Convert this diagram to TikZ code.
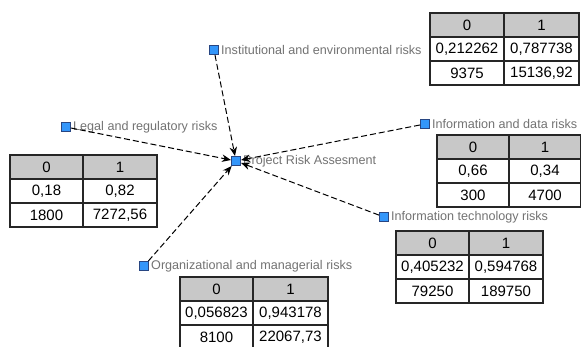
\documentclass[tikz,border=0pt]{standalone}
\usepackage{fontspec}
\setmainfont{Liberation Sans}
\usetikzlibrary{arrows.meta}
\definecolor{nodeblue}{RGB}{51,150,250}
\definecolor{nodeedge}{RGB}{40,70,130}
\definecolor{labelgray}{RGB}{115,115,115}
\definecolor{headgray}{RGB}{200,200,200}
\newcommand\rtab[9]{%
  \node[head, minimum width=#4pt, anchor=north west] (#1h0) at (#2,#3) {0};
  \node[head, minimum width=#5pt, anchor=north west] (#1h1) at (#1h0.north east) {1};
  \node[cell, minimum width=#4pt, anchor=north west] (#1a0) at (#1h0.south west) {#6};
  \node[cell, minimum width=#5pt, anchor=north west] (#1a1) at (#1a0.north east) {#7};
  \node[cell, minimum width=#4pt, anchor=north west] (#1b0) at (#1a0.south west) {#8};
  \node[cell, minimum width=#5pt, anchor=north west] (#1b1) at (#1b0.north east) {#9};
}
\begin{document}
\begin{tikzpicture}[x=1pt,y=-1pt,
  sq/.style={draw=nodeedge, fill=nodeblue, minimum size=9.5pt, inner sep=0pt, line width=0.6pt},
  lbl/.style={anchor=west, text=labelgray, font=\fontsize{12.6}{14}\selectfont, inner sep=0pt},
  link/.style={dash pattern=on 6pt off 3pt, line width=1pt, -{Stealth[length=9pt,width=7.5pt]}},
  cell/.style={draw=black!85, line width=1.4pt, minimum height=24pt, inner sep=0pt, outer sep=0pt, font=\fontsize{15}{16}\selectfont},
  head/.style={cell, fill=headgray}]
\useasboundingbox[fill=white] (0,0) rectangle (581,347);

% nodes
\node[sq] (c) at (236,161) {};
\node[lbl] (cl) at (243,161) {Project Risk Assesment};
\node[sq] (inst) at (214,50) {};
\node[lbl] (instl) at (221,50) {Institutional and environmental risks};
\node[sq] (legal) at (66,127) {};
\node[lbl] (legall) at (73,127) {Legal and regulatory risks};
\node[sq] (info) at (425,124) {};
\node[lbl] (infol) at (432,124) {Information and data risks};
\node[sq] (it) at (384,217) {};
\node[lbl] (itl) at (391,217) {Information technology risks};
\node[sq] (org) at (144,266) {};
\node[lbl] (orgl) at (151,266) {Organizational and managerial risks};

% connectors
\draw[link] (inst) -- (c);
\draw[link] (legal) -- (c);
\draw[link] (info) -- (c);
\draw[link] (it) -- (c);
\draw[link] (org) -- (c);

% tables
\rtab{ti}{430}{13}{74}{75}{0,212262}{0,787738}{9375}{15136,92}
\rtab{tl}{10}{155}{73}{74}{0,18}{0,82}{1800}{7272,56}
\rtab{td}{437}{135}{72}{72}{0,66}{0,34}{300}{4700}
\rtab{tt}{396}{231}{73}{74}{0,405232}{0,594768}{79250}{189750}
\rtab{to}{180}{277}{73}{75}{0,056823}{0,943178}{8100}{22067,73}
\end{tikzpicture}
\end{document}
